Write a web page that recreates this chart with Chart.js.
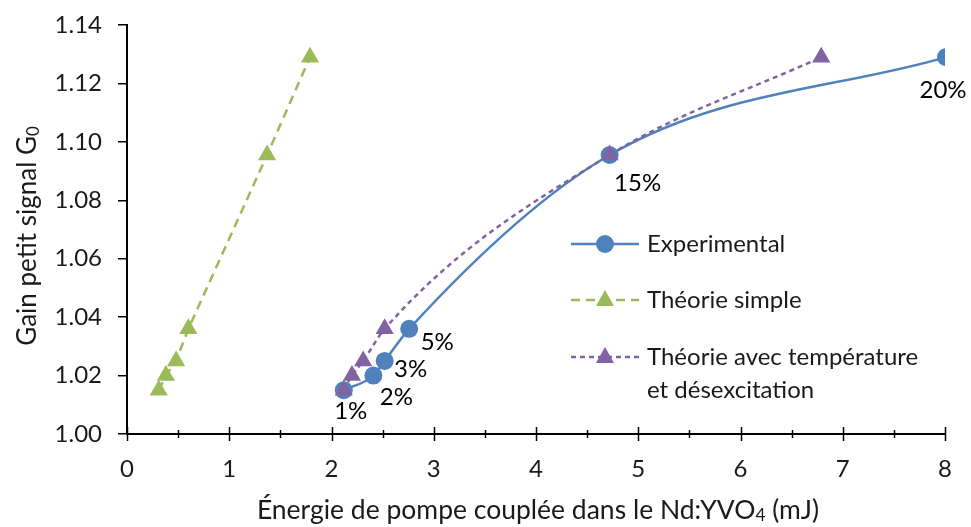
<!DOCTYPE html>
<html>
<head>
<meta charset="utf-8">
<script src="https://cdn.jsdelivr.net/npm/chart.js@4.4.0/dist/chart.umd.min.js"></script>
<style>
  html, body { margin: 0; padding: 0; background: #fff; }
  #wrap { width: 971px; height: 527px; position: relative; }
</style>
</head>
<body>
<div id="wrap"><canvas id="chart" width="971" height="527"></canvas></div>
<script>
// gain petit signal vs énergie de pompe couplée
const gainValues  = [1.015, 1.020, 1.025, 1.036, 1.0955, 1.129];
const energyExp   = [2.12, 2.41, 2.52, 2.76, 4.72, 8.01];
const energySimple= [0.31, 0.38, 0.48, 0.60, 1.37, 1.79];
const energyTemp  = [2.12, 2.20, 2.31, 2.52, 4.72, 6.79];
const pointLabels = ['1%', '2%', '3%', '5%', '15%', '20%'];
const xTicks = [0, 1, 2, 3, 4, 5, 6, 7, 8];
const yTicks = [1.00, 1.02, 1.04, 1.06, 1.08, 1.10, 1.12, 1.14];

const BLUE = '#4F81BD', GREEN = '#9BBB59', PURPLE = '#8064A2';
const FONT = 'Lato, "Open Sans", sans-serif';
const TEXT = '#1a1a1a';

function pts(xs, ys){ return xs.map((x,i)=>({x:x, y:ys[i]})); }

// label offsets next to each experimental point (pixels)
const labelOffsets = [[7,21],[23,22],[26,8],[28,13],[28,28],[-3,33]];

const labelsPlugin = {
  id: 'pctLabels',
  afterDatasetsDraw(chart){
    const ctx = chart.ctx;
    const meta = chart.getDatasetMeta(0);
    ctx.save();
    ctx.font = '24px ' + FONT;
    ctx.fillStyle = '#000';
    ctx.textAlign = 'center';
    ctx.textBaseline = 'middle';
    meta.data.forEach((p,i)=>{
      ctx.fillText(pointLabels[i], p.x + labelOffsets[i][0], p.y + labelOffsets[i][1]);
    });
    ctx.restore();
  }
};

// x tick marks cross the axis, with minor marks at the half units
const xTickMarks = {
  id: 'xTickMarks',
  afterDraw(chart){
    const ctx = chart.ctx, xs = chart.scales.x, yb = chart.chartArea.bottom;
    ctx.save();
    ctx.strokeStyle = '#000';
    ctx.lineWidth = 1.5;
    for(let v = 0; v <= 8.001; v += 0.5){
      const px = Math.round(xs.getPixelForValue(v)) + 0.5;
      const major = Math.abs(v - Math.round(v)) < 1e-6;
      const h = major ? 7 : 4;
      ctx.beginPath();
      ctx.moveTo(px, yb - h);
      ctx.lineTo(px, yb + h);
      ctx.stroke();
    }
    ctx.restore();
  }
};

// axis titles with subscripts
function drawSub(ctx, parts, x, y, size){
  // parts: [text, isSub]
  let w = 0;
  parts.forEach(p=>{ ctx.font = (p[1] ? size*0.65 : size) + 'px ' + FONT; w += ctx.measureText(p[0]).width; });
  let cx = x - w/2;
  parts.forEach(p=>{
    ctx.font = (p[1] ? size*0.65 : size) + 'px ' + FONT;
    ctx.fillText(p[0], cx, p[1] ? y + size*0.22 : y);
    cx += ctx.measureText(p[0]).width;
  });
}

const titlesPlugin = {
  id: 'titles',
  afterDraw(chart){
    const ctx = chart.ctx;
    ctx.save();
    ctx.fillStyle = TEXT;
    ctx.textAlign = 'left';
    ctx.textBaseline = 'middle';
    drawSub(ctx, [['Énergie de pompe couplée dans le Nd:YVO', false], ['4', true], [' (mJ)', false]], 538, 510, 26.5);
    ctx.translate(28, 236);
    ctx.rotate(-Math.PI/2);
    drawSub(ctx, [['Gain petit signal G', false], ['0', true]], 0, 0, 26);
    ctx.restore();
  }
};

const legendItems = [
  {text: ['Experimental'], color: BLUE, dash: [], style: 'circle', y: 244},
  {text: ['Théorie simple'], color: GREEN, dash: [9,6], style: 'triangle', y: 300},
  {text: ['Théorie avec température', 'et désexcitation'], color: PURPLE, dash: [5,4], style: 'triangle', y: 357}
];

const legendPlugin = {
  id: 'customLegend',
  afterDraw(chart){
    const ctx = chart.ctx;
    ctx.save();
    legendItems.forEach(it=>{
      ctx.strokeStyle = it.color;
      ctx.lineWidth = 2.5;
      ctx.setLineDash(it.dash);
      ctx.beginPath();
      ctx.moveTo(571, it.y);
      ctx.lineTo(639, it.y);
      ctx.stroke();
      ctx.setLineDash([]);
      ctx.fillStyle = it.color;
      ctx.beginPath();
      if(it.style === 'circle'){
        ctx.arc(605, it.y, 9, 0, Math.PI*2);
      } else {
        ctx.moveTo(605, it.y - 10);
        ctx.lineTo(605 + 9, it.y + 6);
        ctx.lineTo(605 - 9, it.y + 6);
        ctx.closePath();
      }
      ctx.fill();
      ctx.fillStyle = TEXT;
      ctx.font = '24px ' + FONT;
      ctx.textAlign = 'left';
      ctx.textBaseline = 'middle';
      it.text.forEach((t,k)=> ctx.fillText(t, 647, it.y + k*33));
    });
    ctx.restore();
  }
};

new Chart(document.getElementById('chart'), {
  type: 'scatter',
  data: {
    datasets: [
      {
        label: 'Experimental',
        data: pts(energyExp, gainValues),
        showLine: true,
        borderColor: BLUE, backgroundColor: BLUE,
        borderWidth: 2.5, cubicInterpolationMode: 'monotone',
        pointStyle: 'circle', pointRadius: 9, pointBorderWidth: 0,
        order: 1
      },
      {
        label: 'Théorie simple',
        data: pts(energySimple, gainValues),
        showLine: true,
        borderColor: GREEN, backgroundColor: GREEN,
        borderWidth: 2.5, borderDash: [9,6], tension: 0,
        pointStyle: 'triangle', pointRadius: 10.5, pointBorderWidth: 0,
        order: 2
      },
      {
        label: 'Théorie avec température et désexcitation',
        data: pts(energyTemp, gainValues),
        showLine: true,
        borderColor: PURPLE, backgroundColor: PURPLE,
        borderWidth: 2.5, borderDash: [5,4], cubicInterpolationMode: 'monotone',
        pointStyle: 'triangle', pointRadius: 10.5, pointBorderWidth: 0,
        order: 0
      }
    ]
  },
  options: {
    responsive: false,
    animation: false,
    devicePixelRatio: 1,
    layout: { padding: { left: 0, right: 26, top: 25, bottom: 0 } },
    plugins: { legend: { display: false }, tooltip: { enabled: false } },
    scales: {
      x: {
        type: 'linear', min: 0, max: 8,
        afterFit(s){ s.height = 93; },
        afterBuildTicks(s){ s.ticks = xTicks.map(v=>({value:v})); },
        grid: { display: false },
        border: { display: true, color: '#000', width: 2 },
        ticks: { color: TEXT, font: { family: FONT, size: 24 }, padding: 13, maxRotation: 0 }
      },
      y: {
        type: 'linear', min: 1.00, max: 1.14,
        afterFit(s){ s.width = 127; s.paddingTop = 0; s.paddingBottom = 0; },
        afterBuildTicks(s){ s.ticks = yTicks.map(v=>({value:v})); },
        grid: { display: true, drawOnChartArea: false, drawTicks: true, tickLength: 9, color: '#000', lineWidth: 1.5 },
        border: { display: true, color: '#000', width: 2 },
        ticks: { color: TEXT, font: { family: FONT, size: 24 }, padding: 16,
                 callback: v => v.toFixed(2) }
      }
    }
  },
  plugins: [labelsPlugin, xTickMarks, titlesPlugin, legendPlugin]
});
</script>
</body>
</html>
